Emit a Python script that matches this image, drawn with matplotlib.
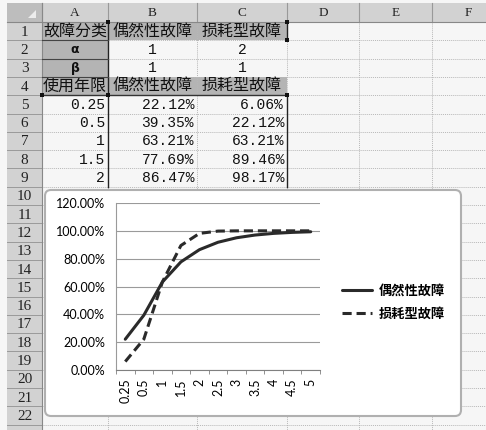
import matplotlib
matplotlib.use("Agg")
import matplotlib.pyplot as plt
from matplotlib.patches import Rectangle, FancyBboxPatch, Polygon

# ---- data read from the sheet ----
years = ["0.25", "0.5", "1", "1.5", "2", "2.5", "3", "3.5", "4", "4.5", "5"]
random_fail = [22.12, 39.35, 63.21, 77.69, 86.47, 91.79, 95.02, 96.98, 98.17, 98.89, 99.33]
wearout_fail = [6.06, 22.12, 63.21, 89.46, 98.17, 99.81, 99.99, 100.00, 100.00, 100.00, 100.00]
alpha = ["1", "2"]
beta = ["1", "1"]
series_names = ["偶然性故障", "损耗型故障"]
col_letters = ["A", "B", "C", "D", "E", "F"]
n_rows = 22
n_table_rows = 5   # rows 5-9 visible above the chart

CJK = ["Noto Sans CJK SC", "DejaVu Sans"]
W, H = 486, 430

fig = plt.figure(figsize=(W / 100, H / 100), dpi=100)
fig.patch.set_facecolor("#f6f6f6")

bg = fig.add_axes([0, 0, 1, 1])
bg.set_xlim(0, W)
bg.set_ylim(H, 0)
bg.axis("off")

# sheet geometry (pixels)
col_edges = [7, 42, 108, 197, 287, 359, 432, 505]
head_top, head_bot = 3, 22
row_h = 18.3
row_edges = [head_bot + i * row_h for i in range(n_rows + 2)]

# grid lines
for x in col_edges[2:]:
    bg.plot([x, x], [head_bot, H], color="#b8b8b8", lw=0.7, ls=(0, (1, 1)))
for y in row_edges:
    bg.plot([col_edges[1], W], [y, y], color="#b8b8b8", lw=0.7, ls=(0, (1, 1)))

# column header row
bg.add_patch(Rectangle((col_edges[0], head_top), W, head_bot - head_top,
                       facecolor="#d2d2d2", edgecolor="none"))
bg.add_patch(Polygon([[col_edges[0], head_top], [col_edges[1], head_top],
                      [col_edges[1], head_bot], [col_edges[0], head_bot]],
                     facecolor="#bdbdbd", edgecolor="none"))
bg.add_patch(Polygon([[36, 10], [36, 18], [28, 18]], facecolor="#ececec", edgecolor="none"))
for i, letter in enumerate(col_letters):
    x0, x1 = col_edges[i + 1], col_edges[i + 2]
    bg.plot([x0, x0], [head_top, head_bot], color="#999999", lw=0.8)
    bg.text((x0 + x1) / 2, (head_top + head_bot) / 2 + 1, letter, ha="center", va="center",
            family="Liberation Serif", fontsize=9.5, color="#222222")
bg.plot([col_edges[0], W], [head_bot, head_bot], color="#888888", lw=0.8)

# row header column
bg.add_patch(Rectangle((col_edges[0], head_bot), col_edges[1] - col_edges[0], H,
                       facecolor="#d2d2d2", edgecolor="none"))
for r in range(n_rows):
    y0, y1 = row_edges[r], row_edges[r + 1]
    bg.plot([col_edges[0], col_edges[1]], [y1, y1], color="#9a9a9a", lw=0.7)
    bg.text((col_edges[0] + col_edges[1]) / 2, (y0 + y1) / 2 + 1, str(r + 1), ha="center",
            va="center", family="Liberation Serif", fontsize=11, color="#222222")
bg.plot([col_edges[1], col_edges[1]], [head_top, H], color="#888888", lw=0.8)


def cell_bg(c, r, color):
    bg.add_patch(Rectangle((col_edges[c + 1], row_edges[r]), col_edges[c + 2] - col_edges[c + 1],
                           row_h, facecolor=color, edgecolor="none", zorder=1))


def cell_text(c, r, s, ha="center", family=CJK, size=11.5, weight="normal"):
    x0, x1 = col_edges[c + 1], col_edges[c + 2]
    x = {"center": (x0 + x1) / 2, "right": x1 - 3, "left": x0 + 3}[ha]
    bg.text(x, row_edges[r] + row_h / 2 + 0.5, s, ha=ha, va="center", family=family,
            fontsize=size, weight=weight, color="#111111", zorder=3)


head_gray = "#b4b4b4"
for c in range(3):
    cell_bg(c, 0, head_gray)
    cell_bg(c, 3, head_gray)
cell_bg(0, 1, head_gray)
cell_bg(0, 2, head_gray)

cell_text(0, 0, "故障分类")
cell_text(0, 3, "使用年限")
for c, name in enumerate(series_names):
    cell_text(c + 1, 0, name)
    cell_text(c + 1, 3, name)
cell_text(0, 1, "α", family="DejaVu Sans", size=9, weight="bold")
cell_text(0, 2, "β", family="DejaVu Sans", size=9, weight="bold")
for c in range(2):
    cell_text(c + 1, 1, alpha[c], family="Liberation Mono", size=10.5)
    cell_text(c + 1, 2, beta[c], family="Liberation Mono", size=10.5)
for i in range(n_table_rows):
    r = 4 + i
    cell_text(0, r, years[i], ha="right", family="Liberation Mono", size=10.5)
    cell_text(1, r, "%.2f%%" % random_fail[i], ha="right", family="Liberation Mono", size=10.5)
    cell_text(2, r, "%.2f%%" % wearout_fail[i], ha="right", family="Liberation Mono", size=10.5)

# borders of the source ranges
for x, y0, y1 in [(col_edges[2], row_edges[0], row_edges[9]),
                  (col_edges[4], row_edges[0], row_edges[1]),
                  (col_edges[4], row_edges[4], row_edges[9])]:
    bg.plot([x, x], [y0, y1], color="#222222", lw=1.0, zorder=4)
for y in [row_edges[1], row_edges[2], row_edges[3]]:
    bg.plot([col_edges[1], col_edges[2]], [y, y], color="#444444", lw=0.8, zorder=4)
bg.plot([col_edges[1], col_edges[4]], [row_edges[4], row_edges[4]], color="#333333", lw=1.0, zorder=4)
for x, y in [(col_edges[2], row_edges[0]), (col_edges[4], row_edges[0]), (col_edges[4], row_edges[1]),
             (col_edges[1], row_edges[4]), (col_edges[2], row_edges[4]), (col_edges[4], row_edges[4])]:
    bg.add_patch(Rectangle((x - 2, y - 2), 4, 4, facecolor="#111111", edgecolor="none", zorder=5))

# chart box
bg.add_patch(FancyBboxPatch((45, 190), 416, 226, boxstyle="round,pad=0,rounding_size=6",
                            facecolor="white", edgecolor="#b0b0b0", lw=1.5, zorder=6))

# ---- chart ----
pl, pr, pt, pb = 116, 320, 203, 370
ax = fig.add_axes([pl / W, 1 - pb / H, (pr - pl) / W, (pb - pt) / H])
ax.set_facecolor("none")
xs = list(range(len(years)))
line1, = ax.plot(xs, random_fail, color="#2a2a2a", lw=2.2, solid_capstyle="round")
line2, = ax.plot(xs, wearout_fail, color="#2a2a2a", lw=2.2, ls=(0, (3, 1.6)))
ax.set_xlim(-0.5, len(years) - 0.5)
ax.set_ylim(0, 120)
yt = [0, 20, 40, 60, 80, 100, 120]
ax.set_yticks(yt)
ax.set_yticklabels(["%.2f%%" % v for v in yt], family="Lato", fontsize=9)
ax.yaxis.grid(True, color="#9a9a9a", lw=0.8)
ax.set_axisbelow(True)
ax.tick_params(axis="y", length=0, pad=8)
ax.set_xticks(xs)
ax.set_xticklabels(years, rotation=90, family="Lato", fontsize=9)
ax.tick_params(axis="x", length=0, pad=6)
ax.set_xticks([x - 0.5 for x in range(len(years) + 1)], minor=True)
ax.tick_params(axis="x", which="minor", length=3, color="#808080", direction="out")
for s in ["top", "right"]:
    ax.spines[s].set_visible(False)
ax.spines["left"].set_color("#9a9a9a")
ax.spines["bottom"].set_color("#808080")

ax.legend([line1, line2], series_names, loc="center left", bbox_to_anchor=(342 / W, 1 - 302 / H),
          bbox_transform=fig.transFigure, frameon=False, handlelength=2.3, handletextpad=0.45,
          labelspacing=0.7, borderpad=0, borderaxespad=0,
          prop={"family": CJK, "size": 9.5, "weight": "bold"})

fig.savefig("out.png", dpi=100, facecolor=fig.get_facecolor())
